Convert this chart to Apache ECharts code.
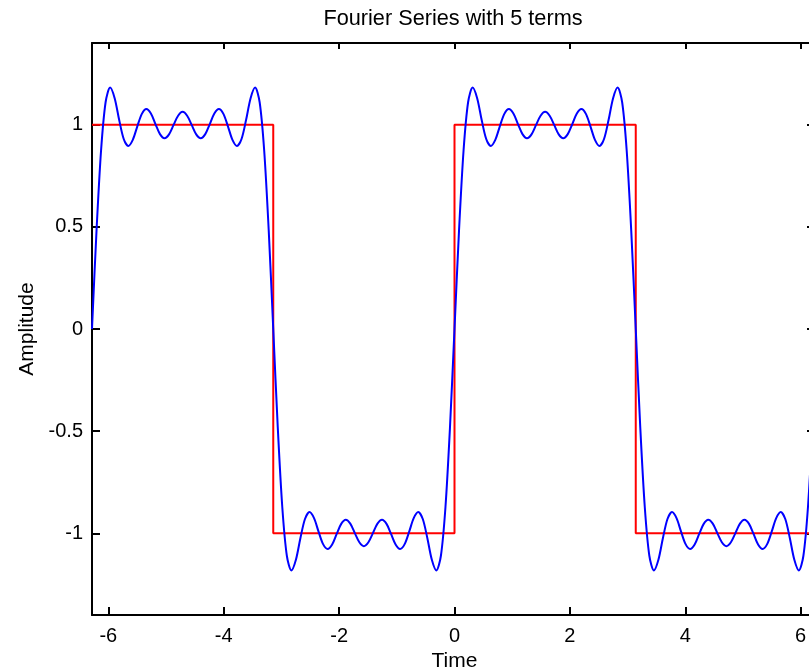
<!DOCTYPE html>
<html>
<head>
<meta charset="utf-8">
<script src="https://cdn.jsdelivr.net/npm/echarts@6/dist/echarts.min.js"></script>
<style>
html,body{margin:0;padding:0;background:#fff;}
#chart{width:809px;height:672px;}
</style>
</head>
<body>
<div id="chart"></div>
<script>
// Sample times (t = k*pi/40, k = -80..80)
const timeValues = [
 -6.2832, -6.2046, -6.1261, -6.0476, -5.9690, -5.8905, -5.8119, -5.7334, -5.6549, -5.5763,
 -5.4978, -5.4192, -5.3407, -5.2622, -5.1836, -5.1051, -5.0265, -4.9480, -4.8695, -4.7909,
 -4.7124, -4.6339, -4.5553, -4.4768, -4.3982, -4.3197, -4.2412, -4.1626, -4.0841, -4.0055,
 -3.9270, -3.8485, -3.7699, -3.6914, -3.6128, -3.5343, -3.4558, -3.3772, -3.2987, -3.2201,
 -3.1416, -3.0631, -2.9845, -2.9060, -2.8274, -2.7489, -2.6704, -2.5918, -2.5133, -2.4347,
 -2.3562, -2.2777, -2.1991, -2.1206, -2.0420, -1.9635, -1.8850, -1.8064, -1.7279, -1.6493,
 -1.5708, -1.4923, -1.4137, -1.3352, -1.2566, -1.1781, -1.0996, -1.0210, -0.9425, -0.8639,
 -0.7854, -0.7069, -0.6283, -0.5498, -0.4712, -0.3927, -0.3142, -0.2356, -0.1571, -0.0785,
 0,
 0.0785, 0.1571, 0.2356, 0.3142, 0.3927, 0.4712, 0.5498, 0.6283, 0.7069, 0.7854,
 0.8639, 0.9425, 1.0210, 1.0996, 1.1781, 1.2566, 1.3352, 1.4137, 1.4923, 1.5708,
 1.6493, 1.7279, 1.8064, 1.8850, 1.9635, 2.0420, 2.1206, 2.1991, 2.2777, 2.3562,
 2.4347, 2.5133, 2.5918, 2.6704, 2.7489, 2.8274, 2.9060, 2.9845, 3.0631, 3.1416,
 3.2201, 3.2987, 3.3772, 3.4558, 3.5343, 3.6128, 3.6914, 3.7699, 3.8485, 3.9270,
 4.0055, 4.0841, 4.1626, 4.2412, 4.3197, 4.3982, 4.4768, 4.5553, 4.6339, 4.7124,
 4.7909, 4.8695, 4.9480, 5.0265, 5.1051, 5.1836, 5.2622, 5.3407, 5.4192, 5.4978,
 5.5763, 5.6549, 5.7334, 5.8119, 5.8905, 5.9690, 6.0476, 6.1261, 6.2046, 6.2832
];

// Fourier series (5 terms) amplitude at each sample time
const fourierValues = [
 0, 0.483, 0.874, 1.110, 1.182, 1.130, 1.023, 0.930, 0.896, 0.926,
 0.992, 1.053, 1.077, 1.055, 1.003, 0.954, 0.934, 0.953, 0.999, 1.044,
 1.063, 1.044, 0.999, 0.953, 0.934, 0.954, 1.003, 1.055, 1.077, 1.053,
 0.992, 0.926, 0.896, 0.930, 1.023, 1.130, 1.182, 1.110, 0.874, 0.483,
 0,
 -0.483, -0.874, -1.110, -1.182, -1.130, -1.023, -0.930, -0.896, -0.926, -0.992,
 -1.053, -1.077, -1.055, -1.003, -0.954, -0.934, -0.953, -0.999, -1.044, -1.063,
 -1.044, -0.999, -0.953, -0.934, -0.954, -1.003, -1.055, -1.077, -1.053, -0.992,
 -0.926, -0.896, -0.930, -1.023, -1.130, -1.182, -1.110, -0.874, -0.483, 0,
 0.483, 0.874, 1.110, 1.182, 1.130, 1.023, 0.930, 0.896, 0.926, 0.992,
 1.053, 1.077, 1.055, 1.003, 0.954, 0.934, 0.953, 0.999, 1.044, 1.063,
 1.044, 0.999, 0.953, 0.934, 0.954, 1.003, 1.055, 1.077, 1.053, 0.992,
 0.926, 0.896, 0.930, 1.023, 1.130, 1.182, 1.110, 0.874, 0.483, 0,
 -0.483, -0.874, -1.110, -1.182, -1.130, -1.023, -0.930, -0.896, -0.926, -0.992,
 -1.053, -1.077, -1.055, -1.003, -0.954, -0.934, -0.953, -0.999, -1.044, -1.063,
 -1.044, -0.999, -0.953, -0.934, -0.954, -1.003, -1.055, -1.077, -1.053, -0.992,
 -0.926, -0.896, -0.930, -1.023, -1.130, -1.182, -1.110, -0.874, -0.483, 0
];

// Ideal square wave
const squareTime = [-6.2832, -3.1416, -3.1416, 0, 0, 3.1416, 3.1416, 6.2832];
const squareValues = [1, 1, -1, -1, 1, 1, -1, -1];

const xTicks = [-6, -4, -2, 0, 2, 4, 6];
const yTicks = [-1, -0.5, 0, 0.5, 1];
const xRange = [-6.2832, 6.2832];
const yRange = [-1.4, 1.4];

const FONT = '"Liberation Sans", Arial, Helvetica, sans-serif';

const fourierData = timeValues.map((t, i) => [t, fourierValues[i]]);
const squareData = squareTime.map((t, i) => [t, squareValues[i]]);

const chart = echarts.init(document.getElementById('chart'), null, {renderer: 'canvas'});

function axisBase(extra) {
  return Object.assign({
    type: 'value',
    splitLine: {show: false},
    axisLine: {show: true, onZero: false, lineStyle: {color: '#000', width: 2}},
  }, extra);
}

chart.setOption({
  backgroundColor: '#fff',
  animation: false,
  title: {
    text: 'Fourier Series with 5 terms',
    left: 453,
    top: 8,
    padding: 0,
    textAlign: 'center',
    textStyle: {fontFamily: FONT, fontSize: 21.7, fontWeight: 'normal', color: '#000'}
  },
  grid: {left: 92, top: 43, width: 725, height: 572, containLabel: false, outerBoundsMode: 'none'},
  xAxis: [
    axisBase({
      position: 'bottom',
      min: xRange[0], max: xRange[1],
      name: 'Time', nameLocation: 'middle', nameGap: 36,
      nameTextStyle: {fontFamily: FONT, fontSize: 21, color: '#000'},
      axisTick: {show: true, inside: true, length: 8, customValues: xTicks, lineStyle: {color: '#000', width: 2}},
      axisLabel: {show: true, customValues: xTicks, margin: 11, fontFamily: FONT, fontSize: 20, color: '#000',
        formatter: v => String(v)}
    }),
    axisBase({
      position: 'top',
      min: xRange[0], max: xRange[1],
      axisTick: {show: true, inside: true, length: 6, customValues: xTicks, lineStyle: {color: '#000', width: 2}},
      axisLabel: {show: false}
    })
  ],
  yAxis: [
    axisBase({
      position: 'left',
      min: yRange[0], max: yRange[1],
      name: 'Amplitude', nameLocation: 'middle', nameGap: 52, nameRotate: 90,
      nameTextStyle: {fontFamily: FONT, fontSize: 21, color: '#000'},
      axisTick: {show: true, inside: true, length: 8, customValues: yTicks, lineStyle: {color: '#000', width: 2}},
      axisLabel: {show: true, customValues: yTicks, margin: 9, fontFamily: FONT, fontSize: 20, color: '#000',
        formatter: v => String(v)}
    }),
    axisBase({
      position: 'right',
      min: yRange[0], max: yRange[1],
      axisTick: {show: true, inside: true, length: 10, customValues: yTicks, lineStyle: {color: '#000', width: 2}},
      axisLabel: {show: false}
    })
  ],
  series: [
    {
      name: 'Square wave',
      type: 'line',
      xAxisIndex: 0, yAxisIndex: 0,
      data: squareData,
      showSymbol: false,
      lineStyle: {color: '#ff0000', width: 2},
      z: 2
    },
    {
      name: 'Fourier series',
      type: 'line',
      xAxisIndex: 0, yAxisIndex: 0,
      data: fourierData,
      showSymbol: false,
      smooth: 0.3,
      lineStyle: {color: '#0000ff', width: 2},
      z: 3
    }
  ]
});
</script>
</body>
</html>
